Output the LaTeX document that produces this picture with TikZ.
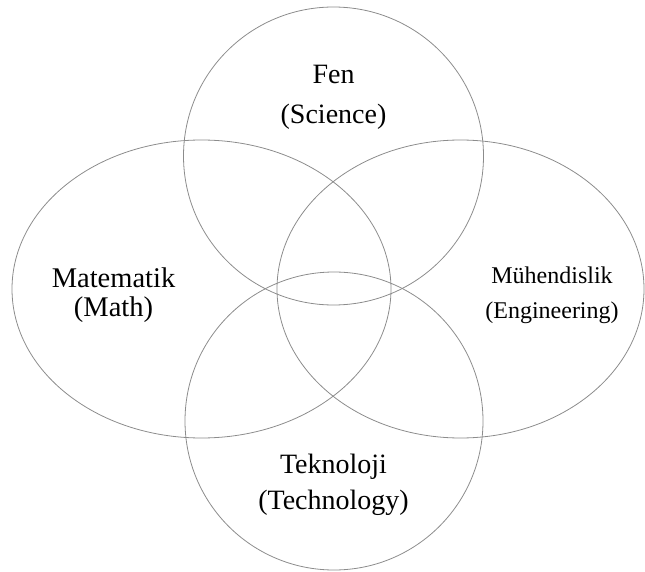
\documentclass[tikz,border=0pt]{standalone}
\usepackage{fontspec}
\setmainfont{Liberation Serif}
\usetikzlibrary{shapes.geometric}
\begin{document}
\begin{tikzpicture}[
  x=1pt, y=-1pt,
  venn/.style={ellipse, draw=black!45, line width=0.8pt, inner sep=0pt, outer sep=0pt},
  lbl/.style={align=center, inner sep=0pt},
]
  \useasboundingbox (0,0) rectangle (645,572);
  \node[venn, minimum width=300pt, minimum height=298pt] (fen) at (333.5,156) {};
  \node[venn, minimum width=379pt, minimum height=298pt] (mat) at (201.5,289) {};
  \node[venn, minimum width=367pt, minimum height=298pt] (muh) at (460.5,289) {};
  \node[venn, minimum width=298pt, minimum height=298pt] (tek) at (334,421) {};
  \node[lbl, font=\fontsize{28}{40}\selectfont] (fenlbl) at (333.5,97) {Fen\\(Science)};
  \node[lbl, font=\fontsize{28.5}{29}\selectfont] (matlbl) at (113.5,295.5) {Matematik\\(Math)};
  \node[lbl, font=\fontsize{24}{35}\selectfont] (muhlbl) at (552,295) {Mühendislik\\(Engineering)};
  \node[lbl, font=\fontsize{28}{36}\selectfont] (teklbl) at (333.5,484.5) {Teknoloji\\(Technology)};
\end{tikzpicture}
\end{document}
